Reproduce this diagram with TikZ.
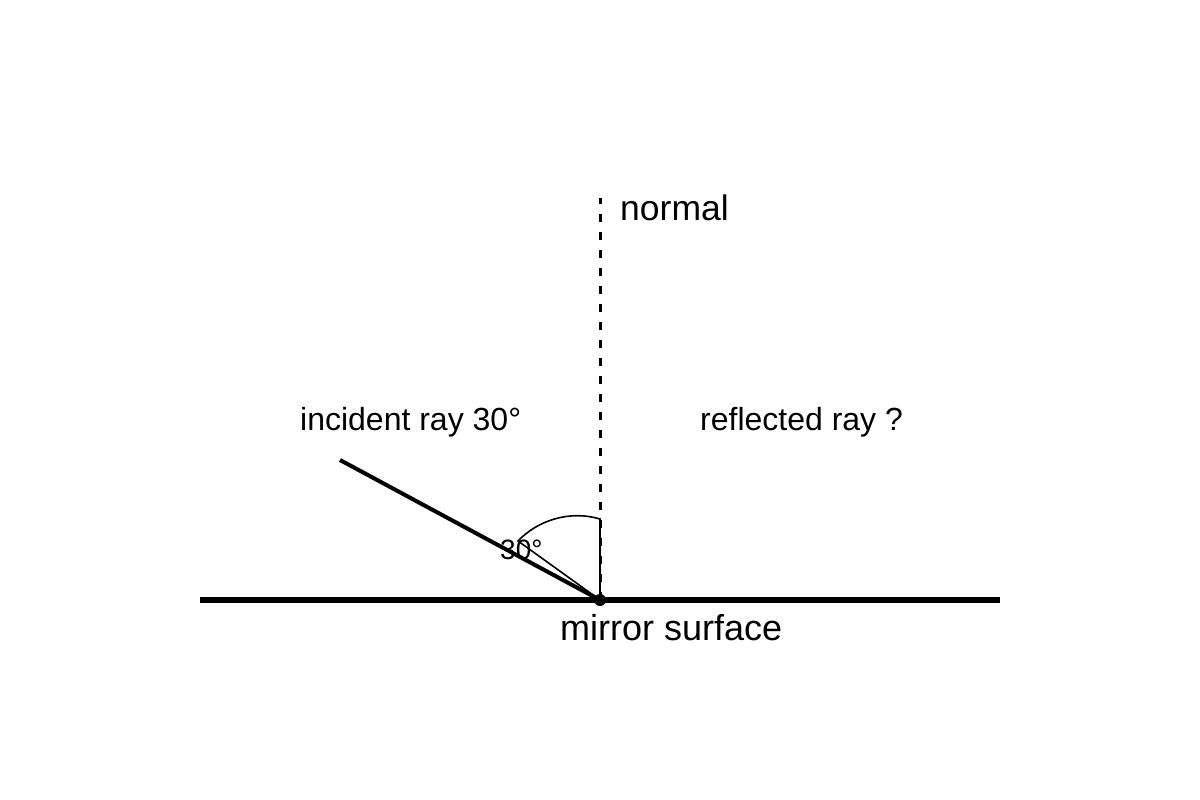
\documentclass[tikz,border=0pt]{standalone}
\usepackage{fontspec}
\setmainfont{Liberation Sans}
\begin{document}
\begin{tikzpicture}[x=1pt,y=-1pt,
  mirrorline/.style={line width=6pt},
  rayline/.style={line width=4pt},
  normalline/.style={line width=3pt, dash pattern=on 8pt off 10pt},
  thinline/.style={line width=1.6pt},
  lab/.style={anchor=base west, inner sep=0pt, font=\fontsize{32}{38}\selectfont},
  biglab/.style={anchor=base west, inner sep=0pt, font=\fontsize{35.5}{42}\selectfont},
  mirlab/.style={anchor=base west, inner sep=0pt, font=\fontsize{36}{42}\selectfont},
  smalllab/.style={anchor=base west, inner sep=0pt, font=\fontsize{28}{33}\selectfont}]
\useasboundingbox[fill=white] (0,0) rectangle (1200,800);
\coordinate (O) at (600,600);
\coordinate (ML) at (200,600);
\coordinate (MR) at (1000,600);
\coordinate (I) at (340,460);
\coordinate (N) at (600,198);
\coordinate (A1) at (600,519);
\coordinate (A2) at (518,541);
% angle sector
\draw[thinline] (O) -- (A1) .. controls (570,510) and (538,520) .. (A2) -- (O);
% normal
\draw[normalline] (O) -- (N);
% mirror
\draw[mirrorline] (ML) -- (MR);
% incident ray
\draw[rayline] (I) -- (O);
\fill (O) circle[radius=6];
% labels
\node[biglab] (normal) at (620,220) {normal};
\node[lab] (inc) at (300,430) {incident ray 30°};
\node[lab] (refl) at (700,430) {reflected ray ?};
\node[mirlab] (mir) at (560,640) {mirror surface};
\node[smalllab] (ang) at (500,559) {30°};
\end{tikzpicture}
\end{document}
